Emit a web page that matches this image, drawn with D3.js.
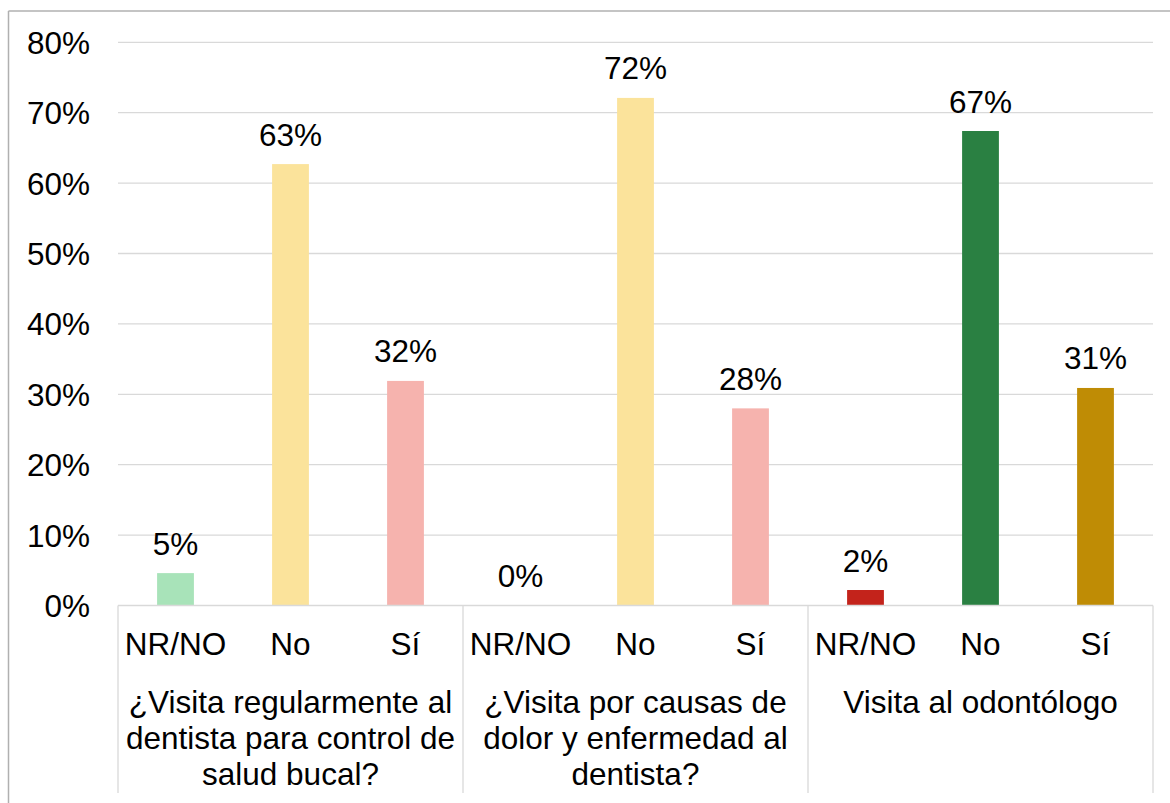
<!DOCTYPE html>
<html>
<head>
<meta charset="utf-8">
<script src="https://cdn.jsdelivr.net/npm/d3@7"></script>
<style>
  html, body { margin: 0; padding: 0; background: #fff; }
  svg { display: block; font-family: "Liberation Sans", Arial, sans-serif; }
</style>
</head>
<body>
<svg id="chart" width="1170" height="803"></svg>
<script>
// Response categories shown under every question
const categories = ["NR/NO", "No", "Sí"];

// Question labels, one array of wrapped lines per group
const groupLines = [
  ["¿Visita regularmente al", "dentista para control de", "salud bucal?"],
  ["¿Visita por causas de", "dolor y enfermedad al", "dentista?"],
  ["Visita al odontólogo"]
];

// Share of answers per question (NR/NO, No, Sí)
const controlValues = [0.046, 0.627, 0.319];
const dolorValues   = [0.0,   0.721, 0.280];
const visitaValues  = [0.022, 0.674, 0.309];

// Bar fill per question and category
const controlColors = ["#a8e3b9", "#fbe39b", "#f6b3ae"];
const dolorColors   = ["#a8e3b9", "#fbe39b", "#f6b3ae"];
const visitaColors  = ["#c3231b", "#2a8042", "#bf8c05"];

// Y axis ticks
const yTicks = [0, 0.1, 0.2, 0.3, 0.4, 0.5, 0.6, 0.7, 0.8];

const FONT_SIZE = 31.5;

const seriesValues = [controlValues, dolorValues, visitaValues];
const seriesColors = [controlColors, dolorColors, visitaColors];

const rows = [];
seriesValues.forEach((vals, g) => {
  vals.forEach((v, i) => {
    rows.push({ key: g + "|" + i, group: g, cat: categories[i], value: v, color: seriesColors[g][i] });
  });
});

const svg = d3.select("#chart");
const plot = { left: 118, right: 1153, top: 42.3, bottom: 605.5 };

const x = d3.scaleBand()
  .domain(rows.map(d => d.key))
  .range([plot.left, plot.right])
  .paddingInner(0.68)
  .paddingOuter(0.34);

const xGroup = d3.scaleBand()
  .domain(groupLines.map((_, i) => i))
  .range([plot.left, plot.right])
  .padding(0);

const y = d3.scaleLinear().domain([0, 0.8]).range([plot.bottom, plot.top]);

// outer frame edges (top and left)
svg.append("line")
  .attr("x1", 8.5).attr("x2", 1170).attr("y1", 11).attr("y2", 11)
  .attr("stroke", "#b0b0b0").attr("stroke-width", 1.5);
svg.append("line")
  .attr("x1", 8.5).attr("x2", 8.5).attr("y1", 11).attr("y2", 803)
  .attr("stroke", "#b0b0b0").attr("stroke-width", 1.5);

// horizontal gridlines
svg.append("g")
  .selectAll("line")
  .data(yTicks.filter(t => t > 0))
  .join("line")
  .attr("x1", plot.left).attr("x2", plot.right)
  .attr("y1", d => y(d)).attr("y2", d => y(d))
  .attr("stroke", "#d9d9d9").attr("stroke-width", 1.3);

// y axis labels
const yAxis = d3.axisLeft(y).tickValues(yTicks).tickFormat(d3.format(".0%")).tickSize(0).tickPadding(0);
const yG = svg.append("g").attr("transform", "translate(90,0)").call(yAxis);
yG.select(".domain").remove();
yG.selectAll("text")
  .attr("font-family", "Liberation Sans, Arial, sans-serif")
  .attr("font-size", FONT_SIZE)
  .attr("fill", "#000")
  .attr("dy", "0.35em");

// bars
svg.append("g")
  .selectAll("rect")
  .data(rows)
  .join("rect")
  .attr("x", d => x(d.key))
  .attr("width", x.bandwidth())
  .attr("y", d => y(d.value))
  .attr("height", d => y(0) - y(d.value))
  .attr("fill", d => d.color);

// value labels
svg.append("g")
  .selectAll("text")
  .data(rows)
  .join("text")
  .attr("x", d => x(d.key) + x.bandwidth() / 2)
  .attr("y", d => y(d.value) - 18.5)
  .attr("text-anchor", "middle")
  .attr("font-size", FONT_SIZE)
  .attr("fill", "#000")
  .text(d => d3.format(".0%")(d.value));

// category axis baseline and group separators
svg.append("line")
  .attr("x1", plot.left).attr("x2", plot.right)
  .attr("y1", plot.bottom).attr("y2", plot.bottom)
  .attr("stroke", "#d9d9d9").attr("stroke-width", 1.3);

const seps = xGroup.domain().map(g => xGroup(g)).concat([plot.right]);
svg.append("g")
  .selectAll("line")
  .data(seps)
  .join("line")
  .attr("x1", d => d).attr("x2", d => d)
  .attr("y1", plot.bottom).attr("y2", 793)
  .attr("stroke", "#d9d9d9").attr("stroke-width", 1.3);

// category labels
svg.append("g")
  .selectAll("text")
  .data(rows)
  .join("text")
  .attr("x", d => x(d.key) + x.bandwidth() / 2)
  .attr("y", 655)
  .attr("text-anchor", "middle")
  .attr("font-size", FONT_SIZE)
  .attr("fill", "#000")
  .text(d => d.cat);

// question labels
const gl = svg.append("g")
  .selectAll("text")
  .data(groupLines)
  .join("text")
  .attr("x", (d, i) => xGroup(i) + xGroup.bandwidth() / 2)
  .attr("y", 712.7)
  .attr("text-anchor", "middle")
  .attr("font-size", FONT_SIZE)
  .attr("fill", "#000");
gl.selectAll("tspan")
  .data(d => d)
  .join("tspan")
  .attr("x", function () { return this.parentNode.getAttribute("x"); })
  .attr("dy", (d, i) => i === 0 ? 0 : 36)
  .text(d => d);
</script>
</body>
</html>
